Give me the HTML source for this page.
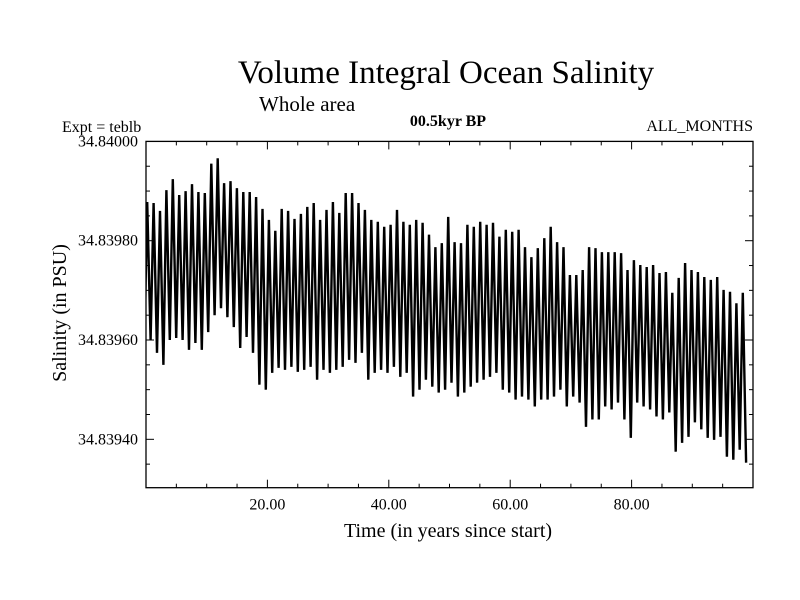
<!DOCTYPE html>
<html><head><meta charset="utf-8"><style>
html,body{margin:0;padding:0;background:#fff;}
svg{display:block;font-family:"Liberation Serif",serif;}
</style></head><body>
<svg id="chart" width="800" height="600" viewBox="0 0 800 600">
<defs><clipPath id="plotclip"><rect x="146" y="141" width="607" height="347"/></clipPath></defs>
<text x="446" y="83" font-size="33" text-anchor="middle">Volume Integral Ocean Salinity</text>
<text x="259" y="111" font-size="21">Whole area</text>
<text x="62" y="132" font-size="16">Expt = teblb</text>
<text x="448" y="126" font-size="16" font-weight="bold" text-anchor="middle">00.5kyr BP</text>
<text x="753" y="131" font-size="16" text-anchor="end">ALL_MONTHS</text>
<text transform="translate(66,313) rotate(-90)" font-size="20" text-anchor="middle">Salinity (in PSU)</text>
<text x="448" y="537" font-size="20" text-anchor="middle">Time (in years since start)</text>
<g id="axes"></g>
<g id="series" clip-path="url(#plotclip)"></g>
</svg>
<script>
const xTicks = [20, 40, 60, 80];
const xTickLabels = ["20.00", "40.00", "60.00", "80.00"];
const yTicks = [34.8394, 34.8396, 34.8398, 34.84];
const yTickLabels = ["34.83940", "34.83960", "34.83980", "34.84000"];
const firstYear = 0.2;
const yearsPerCycle = 1.055;
const peaks = [34.839878,34.839876,34.839860,34.839902,34.839924,34.839892,34.839900,34.839914,34.839898,34.839896,34.839955,34.839966,34.839916,34.839920,34.839906,34.839898,34.839898,34.839888,34.839864,34.839842,34.839820,34.839864,34.839860,34.839844,34.839854,34.839868,34.839876,34.839842,34.839862,34.839878,
34.839856,34.839896,34.839896,34.839876,34.839862,34.839842,34.839838,34.839828,34.839832,34.839862,34.839838,34.839832,34.839842,34.839836,34.839812,34.839787,34.839795,34.839848,34.839797,34.839795,34.839832,34.839828,34.839838,34.839832,34.839836,34.839808,34.839822,34.839818,34.839822,34.839787,34.839767,34.839785,34.839805,34.839828,
34.839797,34.839787,34.839731,34.839731,34.839741,34.839787,34.839785,34.839777,34.839777,34.839777,34.839775,34.839741,34.839761,34.839751,34.839747,34.839751,34.839735,34.839737,34.839695,34.839725,34.839755,34.839741,34.839737,34.839727,34.839721,34.839727,34.839701,34.839697,34.839674,34.839695];
const troughs = [34.839600,34.839574,34.839550,34.839600,34.839604,34.839600,34.839580,34.839594,34.839580,34.839616,34.839650,34.839664,34.839646,34.839626,34.839584,34.839606,34.839574,34.839510,34.839500,34.839534,34.839544,34.839540,34.839546,34.839536,34.839540,34.839546,34.839520,34.839540,34.839534,34.839540,
34.839546,34.839560,34.839554,34.839574,34.839520,34.839534,34.839540,34.839534,34.839546,34.839526,34.839534,34.839486,34.839500,34.839520,34.839506,34.839494,34.839500,34.839514,34.839486,34.839494,34.839506,34.839514,34.839520,34.839526,34.839534,34.839500,34.839494,34.839480,34.839486,34.839480,34.839466,34.839480,34.839480,34.839486,
34.839500,34.839466,34.839486,34.839474,34.839425,34.839440,34.839440,34.839466,34.839460,34.839474,34.839440,34.839403,34.839474,34.839466,34.839460,34.839446,34.839440,34.839454,34.839375,34.839393,34.839405,34.839434,34.839420,34.839403,34.839399,34.839405,34.839365,34.839359,34.839379,34.839353];

const NS = "http://www.w3.org/2000/svg";
const L = 146, R = 753, T = 141.4, B = 487.7;
function xScale(t){ return 146 + t * 6.07; }
function yScale(v){ return 141.4 + (34.84 - v) / 0.000002014; }
function mk(tag, attrs, parent){ const e = document.createElementNS(NS, tag); for (const k in attrs) e.setAttribute(k, attrs[k]); parent.appendChild(e); return e; }

const axes = document.getElementById('axes');
const frame = mk('rect', {x:L, y:T, width:R-L, height:B-T, fill:'none', stroke:'#000', 'stroke-width':1.3}, axes);



for (let t = 5; t < 100; t += 5) {
  const x = xScale(t);
  const major = xTicks.indexOf(t) >= 0;
  const len = major ? 8 : 4;
  const tb = mk('line', {x1:x, x2:x, y1:B, y2:B-len, stroke:'#000', 'stroke-width':1}, axes);
  
  
  const tt = mk('line', {x1:x, x2:x, y1:T, y2:T+len, stroke:'#000', 'stroke-width':1}, axes);
  
  
}
xTicks.forEach((v, i) => {
  const lab = mk('text', {x:xScale(v), y:B+22, 'font-size':16, 'text-anchor':'middle'}, axes);
  lab.textContent = xTickLabels[i];
  
  
});
for (let k = 0; k <= 14; k++) {
  const v = 34.8393 + k * 0.00005;
  const y = yScale(v);
  if (y < T + 1 || y > B - 1) continue;
  const major = yTicks.some(t => Math.abs(t - v) < 1e-7);
  const len = major ? 8 : 4;
  const tl = mk('line', {x1:L, x2:L+len, y1:y, y2:y, stroke:'#000', 'stroke-width':1}, axes);
  
  
  const tr = mk('line', {x1:R, x2:R-len, y1:y, y2:y, stroke:'#000', 'stroke-width':1}, axes);
  
  
}
yTicks.forEach((v, i) => {
  const lab = mk('text', {x:138, y:yScale(v)+5, 'font-size':16, 'text-anchor':'end'}, axes);
  lab.textContent = yTickLabels[i];
  
  
});

const pts = [];
pts.push([xScale(firstYear - 0.45), yScale(troughs[0])]);
peaks.forEach((p, i) => {
  const t = firstYear + i * yearsPerCycle;
  pts.push([xScale(t), yScale(p)]);
  pts.push([xScale(t + 0.55), yScale(troughs[i])]);
});
const line = mk('polyline', {points: pts.map(p => p[0].toFixed(1)+','+p[1].toFixed(1)).join(' '), fill:'none', stroke:'#000', 'stroke-width':2.4, 'stroke-linejoin':'miter'}, document.getElementById('series'));


</script>
</body></html>
